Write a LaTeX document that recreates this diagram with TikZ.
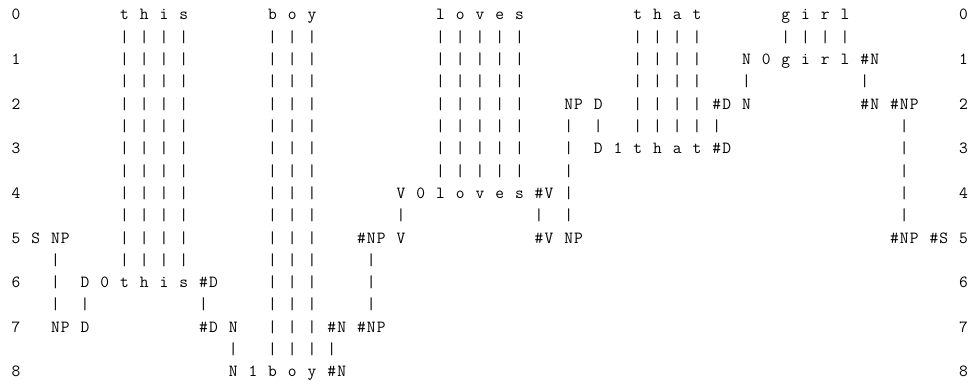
\documentclass[tikz,border=0pt]{standalone}
\usepackage{fontspec}
\setmonofont{Latin Modern Mono}
\tikzset{
  g/.style={font=\ttfamily\fontsize{17}{17}\selectfont, inner sep=0pt, anchor=base, text=black}
}
\newcommand\putpipes[2]{\foreach \c in {#2} \node[g] (p#1-\c) at ({16+9.87*\c},{-(20+22.3*#1)}) {|};}
\newcommand\puttoks[2]{\foreach \c/\t in {#2} \node[g] (t#1-\c) at ({16+9.87*\c},{-(20+22.3*#1)}) {\t};}
\newcommand\rowlabel[2]{\node[g] (l#1) at ({16},{-(20+22.3*#1)}) {#2};\node[g] (r#1) at ({16+9.87*96},{-(20+22.3*#1)}) {#2};}
\begin{document}
\begin{tikzpicture}[x=1pt,y=1pt]
\useasboundingbox (0,0) rectangle (973,-385);
% line 0 (row 0)
\rowlabel{0}{0}
\puttoks{0}{11/t,13/h,15/i,17/s,26/b,28/o,30/y,43/l,45/o,47/v,49/e,51/s,63/t,65/h,67/a,69/t,78/g,80/i,82/r,84/l}
% line 1
\putpipes{1}{11,13,15,17,26,28,30,43,45,47,49,51,63,65,67,69,78,80,82,84}
% line 2 (row 1)
\rowlabel{2}{1}
\putpipes{2}{11,13,15,17,26,28,30,43,45,47,49,51,63,65,67,69}
\puttoks{2}{74/N,76/0,78/g,80/i,82/r,84/l,86/\#,87/N}
% line 3
\putpipes{3}{11,13,15,17,26,28,30,43,45,47,49,51,63,65,67,69,74,86}
% line 4 (row 2)
\rowlabel{4}{2}
\putpipes{4}{11,13,15,17,26,28,30,43,45,47,49,51,63,65,67,69}
\puttoks{4}{56/N,57/P,59/D,71/\#,72/D,74/N,86/\#,87/N,89/\#,90/N,91/P}
% line 5
\putpipes{5}{11,13,15,17,26,28,30,43,45,47,49,51,56,59,63,65,67,69,71,90}
% line 6 (row 3)
\rowlabel{6}{3}
\putpipes{6}{11,13,15,17,26,28,30,43,45,47,49,51,56,90}
\puttoks{6}{59/D,61/1,63/t,65/h,67/a,69/t,71/\#,72/D}
% line 7
\putpipes{7}{11,13,15,17,26,28,30,43,45,47,49,51,56,90}
% line 8 (row 4)
\rowlabel{8}{4}
\putpipes{8}{11,13,15,17,26,28,30,56,90}
\puttoks{8}{39/V,41/0,43/l,45/o,47/v,49/e,51/s,53/\#,54/V}
% line 9
\putpipes{9}{11,13,15,17,26,28,30,39,53,56,90}
% line 10 (row 5)
\rowlabel{10}{5}
\putpipes{10}{11,13,15,17,26,28,30}
\puttoks{10}{2/S,4/N,5/P,35/\#,36/N,37/P,39/V,53/\#,54/V,56/N,57/P,89/\#,90/N,91/P,93/\#,94/S}
% line 11
\putpipes{11}{4,11,13,15,17,26,28,30,36}
% line 12 (row 6)
\rowlabel{12}{6}
\putpipes{12}{4,26,28,30,36}
\puttoks{12}{7/D,9/0,11/t,13/h,15/i,17/s,19/\#,20/D}
% line 13
\putpipes{13}{4,7,19,26,28,30,36}
% line 14 (row 7)
\rowlabel{14}{7}
\putpipes{14}{26,28,30}
\puttoks{14}{4/N,5/P,7/D,19/\#,20/D,22/N,32/\#,33/N,35/\#,36/N,37/P}
% line 15
\putpipes{15}{22,26,28,30,32}
% line 16 (row 8)
\rowlabel{16}{8}
\puttoks{16}{22/N,24/1,26/b,28/o,30/y,32/\#,33/N}
\end{tikzpicture}
\end{document}
